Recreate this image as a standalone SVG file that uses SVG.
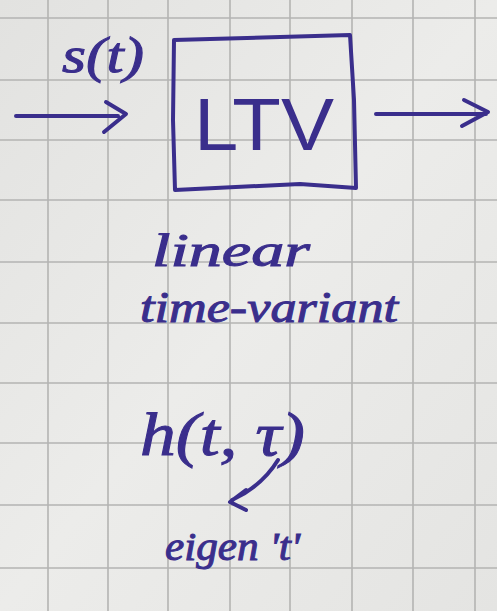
<svg xmlns="http://www.w3.org/2000/svg" width="497" height="611" viewBox="0 0 497 611">
<style>
.grid{stroke:#b4b4b2;stroke-width:1.6}
.ink{stroke:#3a2e8c;stroke-width:4;fill:none;stroke-linecap:round;stroke-linejoin:round}
.t{fill:#3a2e8c;stroke:#3a2e8c;stroke-width:1;font-family:"Liberation Serif",serif;font-style:italic}
.s{fill:#3a2e8c;font-family:"Liberation Sans",sans-serif}
</style>
<defs>
<linearGradient id="bg" x1="0" y1="0" x2="1" y2="1">
<stop offset="0" stop-color="#e2e2e0"/>
<stop offset="0.5" stop-color="#ececea"/>
<stop offset="1" stop-color="#e4e4e2"/>
</linearGradient>
</defs>
<rect width="497" height="611" fill="url(#bg)"/>
<g id="grid">
<path class="grid" d="M48 0V611M108 0V611M168 0V611M230 0V611M290 0V611M352 0V611M413 0V611M475 0V611"/>
<path class="grid" d="M0 18H497M0 80H497M0 140H497M0 200H497M0 262H497M0 323H497M0 383H497M0 443H497M0 505H497M0 568H497"/>
</g>
<g id="ltv">
<path class="ink" d="M174 40L350 35L354 100L356 188L300 184L175 190L173 120Z"/>
<text class="s" x="194" y="150" font-size="74" textLength="140" lengthAdjust="spacingAndGlyphs">LTV</text>
</g>
<g id="labels">
<text class="t" x="62" y="72" font-size="50" textLength="82" lengthAdjust="spacingAndGlyphs">s(t)</text>
<text class="t" x="152" y="266" font-size="46" textLength="158" lengthAdjust="spacingAndGlyphs">linear</text>
<text class="t" x="140" y="322" font-size="44" textLength="258" lengthAdjust="spacingAndGlyphs">time-variant</text>
<text class="t" x="140" y="455" font-size="62" textLength="165" lengthAdjust="spacingAndGlyphs">h(t, τ)</text>
<text class="t" x="165" y="560" font-size="40" textLength="135" lengthAdjust="spacingAndGlyphs">eigen 't'</text>
</g>
<g id="connectors">
<path class="ink" d="M16 116H118M106 102L126 114L104 132"/>
<path class="ink" d="M376 114H486M464 100L488 112L462 126"/>
<path class="ink" d="M278 460Q262 486 232 500M246 490L230 502L246 510"/>
</g>
</svg>
